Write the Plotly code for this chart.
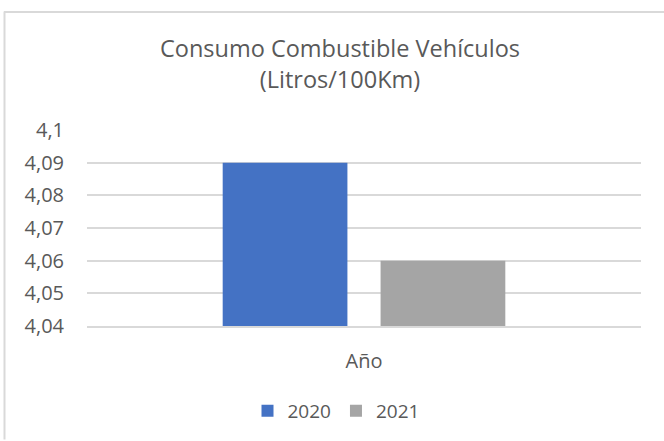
import plotly.graph_objects as go

categories = ["Año"]
series_names = ["2020", "2021"]
values_2020 = [4.09]
values_2021 = [4.06]
tick_vals = [4.04, 4.05, 4.06, 4.07, 4.08, 4.09, 4.1]
tick_text = ["4,04", "4,05", "4,06", "4,07", "4,08", "4,09", "4,1"]

FONT = "Open Sans"
TXT = "#595959"

fig = go.Figure()
fig.add_trace(go.Bar(x=categories, y=values_2020, name=series_names[0],
                     marker=dict(color="#4472C4", line=dict(width=0))))
fig.add_trace(go.Bar(x=categories, y=values_2021, name=series_names[1],
                     marker=dict(color="#A5A5A5", line=dict(width=0))))

W, H = 664, 441
ml, mr, mt, mb = 87, 23, 130, 114
pw = W - ml - mr
ph = H - mt - mb

def px_x(px):
    return (px - ml) / pw

def px_y(py):
    return (H - mb - py) / ph

fig.update_layout(
    width=W, height=H,
    margin=dict(l=ml, r=mr, t=mt, b=mb),
    paper_bgcolor="white", plot_bgcolor="white",
    font=dict(family=FONT, color=TXT, size=19),
    barmode="group", bargap=0.43, bargroupgap=0.21,
    title=dict(text="Consumo Combustible Vehículos<br>(Litros/100Km)",
               x=340 / W, xanchor="center", xref="container",
               y=1 - 57 / H, yanchor="top", yref="container",
               font=dict(family=FONT, size=23.5, color=TXT)),
    showlegend=True,
    legend=dict(orientation="h", x=px_x(336), xanchor="center",
                y=px_y(411), yanchor="middle",
                font=dict(family=FONT, size=19, color=TXT),
                itemwidth=30, traceorder="normal"),
    xaxis=dict(showgrid=False, showline=True, linecolor="#d9d9d9", linewidth=1.5,
               ticks="", ticklabelstandoff=16, tickfont=dict(size=20, color=TXT)),
    yaxis=dict(range=[4.04, 4.1], tickvals=tick_vals, ticktext=tick_text,
               showgrid=True, gridcolor="#d9d9d9", gridwidth=1.5,
               zeroline=False, showline=False, ticks="",
               ticklabelstandoff=22, tickfont=dict(size=20, color=TXT)),
    shapes=[
        dict(type="line", xref="paper", yref="paper",
             x0=px_x(4), x1=px_x(664), y0=px_y(11.5), y1=px_y(11.5),
             line=dict(color="#d9d9d9", width=2)),
        dict(type="line", xref="paper", yref="paper",
             x0=px_x(4.5), x1=px_x(4.5), y0=px_y(11), y1=px_y(441),
             line=dict(color="#d9d9d9", width=2)),
    ],
)

fig.write_html("out.html", config={"displayModeBar": False},
               post_script="document.body.style.margin='0';")
